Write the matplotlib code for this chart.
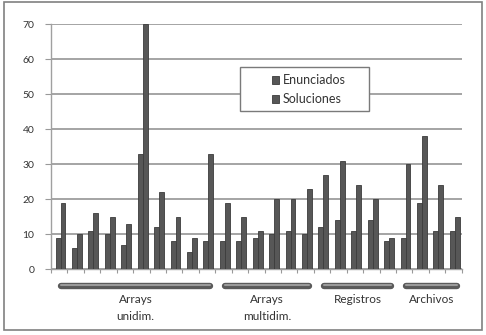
import numpy as np
import matplotlib.pyplot as plt
from matplotlib.patches import Rectangle
import matplotlib.transforms as mtransforms

plt.rcParams['font.family'] = ['Lato', 'DejaVu Sans']

# values
enunciados = [9, 6, 11, 10, 7, 33, 12, 8, 5, 8, 8, 8, 9, 10, 11, 10,
              12, 14, 11, 14, 8, 9, 19, 11, 11]
soluciones = [19, 10, 16, 15, 13, 70, 22, 15, 9, 33, 19, 15, 11, 20, 20, 23,
              27, 31, 24, 20, 9, 30, 38, 24, 15]
group_names = ['Arrays\nunidim.', 'Arrays\nmultidim.', 'Registros', 'Archivos']
group_sizes = [10, 6, 5, 4]
yticks = [0, 10, 20, 30, 40, 50, 60, 70]

fig = plt.figure(figsize=(4.86, 3.35), dpi=100)
ax = fig.add_axes([0.105, 0.197, 0.845, 0.731])

# outer frame of the picture
fig.patches.append(Rectangle((0.008, 0.015), 0.984, 0.98, transform=fig.transFigure,
                             fill=False, edgecolor='#808080', linewidth=1.2))

x = np.arange(len(enunciados))
w = 0.3
ax.bar(x + 0.43, enunciados, width=w, color='#575757', edgecolor='#3c3c3c',
       linewidth=0.6, label='Enunciados', zorder=3)
ax.bar(x + 0.73, soluciones, width=w, color='#575757', edgecolor='#3c3c3c',
       linewidth=0.6, label='Soluciones', zorder=3)

ax.set_xlim(0, len(enunciados))
ax.set_ylim(0, 70)
ax.set_yticks(yticks)
ax.set_xticks(np.arange(len(enunciados) + 1))
ax.set_xticklabels([])
ax.tick_params(axis='y', labelsize=7.5, colors='#333333', length=4, color='#999999', pad=8)
ax.tick_params(axis='x', length=3, color='#999999')
ax.grid(axis='y', color='#a4a4a4', linewidth=1.4, zorder=0)
for s in ['top', 'right']:
    ax.spines[s].set_visible(False)
for s in ['left', 'bottom']:
    ax.spines[s].set_color('#a0a0a0')
    ax.spines[s].set_linewidth(1.0)

# group brackets under the x axis
trans = mtransforms.blended_transform_factory(ax.transData, ax.transAxes)
start = 0
for name, n in zip(group_names, group_sizes):
    x0, x1 = start + 0.6, start + n - 0.3
    ax.plot([x0, x1], [-0.069, -0.069], transform=trans, clip_on=False,
            color='#5a5a5a', linewidth=4.6, solid_capstyle='round')
    ax.plot([x0, x1], [-0.064, -0.064], transform=trans, clip_on=False,
            color='#9a9a9a', linewidth=1.5, solid_capstyle='round')
    ax.text((x0 + x1) / 2, -0.102, name, transform=trans, ha='center', va='top',
            fontsize=8.5, color='#333333', linespacing=1.7)
    start += n

# legend: wide white box with the entries set to the right
box = Rectangle((0.46, 0.645), 0.314, 0.179, transform=ax.transAxes,
                facecolor='white', edgecolor='#7a7a7a', linewidth=1.0, zorder=4)
ax.add_patch(box)
leg = ax.legend(loc='upper left', bbox_to_anchor=(0.538, 0.795), frameon=False,
                fontsize=9, handlelength=0.6, handleheight=0.6,
                handletextpad=0.25, borderpad=0, labelspacing=0.55,
                borderaxespad=0)
leg.set_zorder(5)
for t in leg.get_texts():
    t.set_color('#333333')

fig.savefig('out.png', dpi=100)
